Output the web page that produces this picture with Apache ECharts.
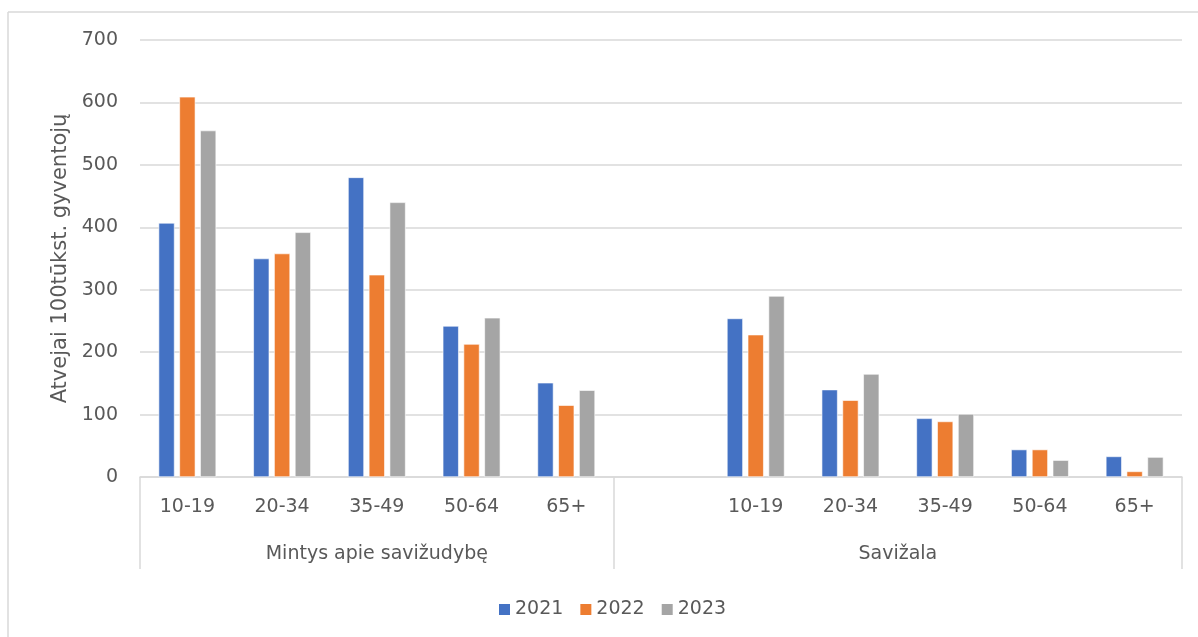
<!DOCTYPE html>
<html>
<head>
<meta charset="utf-8">
<script src="https://cdn.jsdelivr.net/npm/echarts@6/dist/echarts.min.js"></script>
<style>
html,body{margin:0;padding:0;background:#fff;}
#chart{width:1198px;height:637px;}
</style>
</head>
<body>
<div id="chart"></div>
<script>
// Data
const groupNames = ['Mintys apie savižudybę', 'Savižala'];
const ageGroups = ['10-19', '20-34', '35-49', '50-64', '65+'];
const seriesNames = ['2021', '2022', '2023'];
const minty2021 = [407, 350, 480, 242, 151];
const minty2022 = [609, 358, 324, 213, 115];
const minty2023 = [555, 392, 440, 255, 139];
const saviz2021 = [254, 140, 94, 44, 33];
const saviz2022 = [228, 123, 89, 44, 9];
const saviz2023 = [290, 165, 101, 27, 32];
const yTicks = [0, 100, 200, 300, 400, 500, 600, 700];

// Category layout: group 1 = 5 slots, group 2 = empty slot + 5 slots
const categories = ageGroups.concat([''], ageGroups);
const join = (a, b) => a.concat([null], b);
const seriesData = [join(minty2021, saviz2021), join(minty2022, saviz2022), join(minty2023, saviz2023)];
const groupSlots = [5, 6];

// Second axis on half-slot points (boundaryGap false): 2*11 + 1 points
const totalSlots = groupSlots.reduce((a, b) => a + b, 0);
const halfPts = [];
for (let i = 0; i <= totalSlots * 2; i++) halfPts.push('');
const sepIdx = [0];
let acc = 0;
groupSlots.forEach((n, gi) => {
  halfPts[acc * 2 + n] = groupNames[gi];
  acc += n;
  sepIdx.push(acc * 2);
});

const colors = ['#4472C4', '#ED7D31', '#A5A5A5'];
const font = 'DejaVu Sans';
const txt = '#595959';
const gridCol = '#d9d9d9';
const fs = 19;

const chart = echarts.init(document.getElementById('chart'), null, {renderer: 'canvas'});
chart.setOption({
  animation: false,
  color: colors,
  textStyle: {fontFamily: font},
  grid: {left: 140, right: 16, top: 40, bottom: 160, containLabel: false},
  graphic: [
    {type: 'line', shape: {x1: 8, y1: 12, x2: 1198, y2: 12}, style: {stroke: gridCol, lineWidth: 1.5}},
    {type: 'line', shape: {x1: 8, y1: 12, x2: 8, y2: 637}, style: {stroke: gridCol, lineWidth: 1.5}}
  ],
  legend: {
    data: seriesNames,
    left: 492,
    top: 595,
    itemWidth: 13,
    itemHeight: 13,
    itemGap: 15,
    icon: 'rect',
    textStyle: {fontFamily: font, fontSize: fs, color: txt, padding: [0, 0, 0, -1]}
  },
  xAxis: [
    {
      type: 'category',
      data: categories,
      axisLine: {show: true, lineStyle: {color: gridCol, width: 1.5}},
      axisTick: {show: false},
      axisLabel: {fontFamily: font, fontSize: fs, color: txt, margin: 21, interval: 0}
    },
    {
      type: 'category',
      position: 'bottom',
      boundaryGap: false,
      data: halfPts,
      axisLine: {show: false},
      axisTick: {
        show: true,
        length: 92,
        interval: (i) => sepIdx.indexOf(i) >= 0,
        lineStyle: {color: gridCol, width: 1.5}
      },
      axisLabel: {
        fontFamily: font, fontSize: fs, color: txt, margin: 68,
        interval: (i, v) => v !== ''
      }
    }
  ],
  yAxis: {
    type: 'value',
    min: yTicks[0],
    max: yTicks[yTicks.length - 1],
    interval: 100,
    name: 'Atvejai 100tūkst. gyventojų',
    nameLocation: 'middle',
    nameGap: 67,
    nameRotate: 90,
    nameTextStyle: {fontFamily: font, fontSize: 21, color: txt},
    axisLine: {show: false},
    axisTick: {show: false},
    axisLabel: {fontFamily: font, fontSize: fs, color: txt, margin: 22},
    splitLine: {lineStyle: {color: gridCol, width: 1.5}}
  },
  series: seriesNames.map((n, i) => ({
    name: n,
    type: 'bar',
    xAxisIndex: 0,
    data: seriesData[i],
    barWidth: 16,
    barGap: '30%',
    itemStyle: {color: colors[i], borderColor: '#ffffff', borderWidth: 0.6}
  }))
});
</script>
</body>
</html>
